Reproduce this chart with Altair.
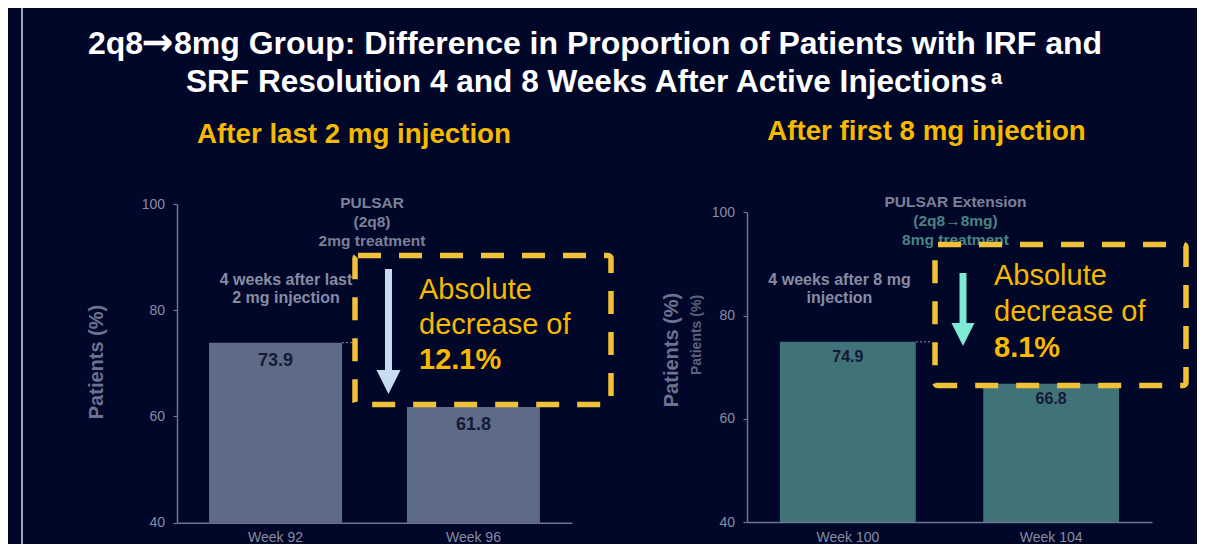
import altair as alt
import pandas as pd

# ---------------- data ----------------
left_weeks = ["Week 92", "Week 96"]
left_values = [73.9, 61.8]
right_weeks = ["Week 100", "Week 104"]
right_values = [74.9, 66.8]
y_ticks = [40, 60, 80, 100]
y_domain = [40, 100]

title_parts = ["2q8", "\u2192", "8mg Group: Difference in Proportion of Patients with IRF and"]
title_line2 = "SRF Resolution 4 and 8 Weeks After Active Injections"
title_sup = "a"
left_subtitle = "After last 2 mg injection"
right_subtitle = "After first 8 mg injection"
left_study = ["PULSAR", "(2q8)", "2mg treatment"]
right_study = ["PULSAR Extension", "(2q8\u21928mg)", "8mg treatment"]
left_note = ["4 weeks after last", "2 mg injection"]
right_note = ["4 weeks after 8 mg", "injection"]
left_callout = ["Absolute", "decrease of", "12.1%"]
right_callout = ["Absolute", "decrease of", "8.1%"]
y_title = "Patients (%)"

# ---------------- style ----------------
FONT = "Liberation Sans"
NAVY = "#010728"
WHITE = "#ffffff"
GOLD = "#f5ba00"
DASH_GOLD = "#f0c23a"
AXIS_GRAY = "#6f748e"
LABEL_GRAY = "#878ca4"
NOTE_GRAY = "#7b8098"
TITLE_GRAY = "#6c7290"
TEAL_NOTE = "#4b8383"
BAR_L = "#5e6b87"
BAR_R = "#3f7378"
ARROW_L = "#c8dcf0"
ARROW_R = "#7debd3"
DARK = "#141a38"

W, H = 1189, 536
M = 8  # page margin


def px(x):
    return x - M


def py(y):
    return y - M


def txt(text, x, y, size, color, weight="bold", align="center", angle=0, baseline="alphabetic", font=FONT):
    return alt.Chart().mark_text(
        text=text, font=font, fontSize=size, fontWeight=weight, color=color,
        align=align, baseline=baseline, angle=angle,
    ).encode(x=alt.value(px(x)), y=alt.value(py(y)))


def panel(weeks, values, x_rng, y_rng, pin, pout, bar_color, lab_size, lab_dy,
          x_axis_y, y_axis_x, ref_x):
    df = pd.DataFrame({"week": weeks, "value": values})
    base = alt.Chart(df)
    x = alt.X(
        "week:N", sort=weeks,
        scale=alt.Scale(range=[px(x_rng[0]), px(x_rng[1])], paddingInner=pin, paddingOuter=pout),
        axis=alt.Axis(orient="bottom", offset=py(x_axis_y) - H, title=None, ticks=False, tickSize=0,
                      labelAngle=0, labelPadding=8, labelFontSize=14, labelColor=LABEL_GRAY,
                      labelFont=FONT, domainColor=AXIS_GRAY, domainWidth=1.5, grid=False, zindex=1),
    )
    y = alt.Y(
        "value:Q",
        scale=alt.Scale(domain=y_domain, range=[py(y_rng[0]), py(y_rng[1])], zero=False, nice=False),
        axis=alt.Axis(orient="left", offset=-px(y_axis_x), title=None, values=y_ticks, tickSize=4,
                      tickColor=AXIS_GRAY, tickWidth=1.2, labelPadding=8.5, labelFontSize=14,
                      labelColor=LABEL_GRAY, labelFont=FONT, domainColor=AXIS_GRAY, domainWidth=1.5,
                      grid=False, zindex=1),
    )
    bars = base.mark_bar(color=bar_color).encode(x=x, y=y, y2=alt.datum(y_domain[0]))
    labels = base.mark_text(
        font=FONT, fontSize=lab_size, fontWeight="bold", color=DARK, baseline="alphabetic", dy=lab_dy
    ).encode(x="week:N", y="value:Q", text=alt.Text("value:Q", format=".1f"))
    ref = base.transform_filter(alt.datum.week == weeks[0]).mark_rule(
        color=LABEL_GRAY, strokeDash=[2, 2], strokeWidth=1
    ).encode(y="value:Q", x=alt.value(px(ref_x[0])), x2=alt.value(px(ref_x[1])))
    return alt.layer(bars, labels, ref)


left_panel = panel(left_weeks, left_values, (177, 572), (522.7, 204), 0.328, 0.162, BAR_L, 18, 23,
                   522.7, 177, (342, 353))
right_panel = panel(right_weeks, right_values, (747, 1152), (522, 212.3), 0.332, 0.162, BAR_R, 16, 20.5,
                    522, 747, (916, 932))


def box(x1, x2, y1, y2):
    return alt.Chart().mark_rect(
        filled=False, fillOpacity=0, stroke=DASH_GOLD, strokeWidth=5.5, strokeDash=[23, 18], cornerRadius=3
    ).encode(x=alt.value(px(x1)), x2=alt.value(px(x2)), y=alt.value(py(y1)), y2=alt.value(py(y2)))


def arrow(x, y1, y2, head_y, head_w, color):
    shaft = alt.Chart().mark_rule(color=color, strokeWidth=7).encode(
        x=alt.value(px(x)), y=alt.value(py(y1)), y2=alt.value(py(y2)))
    head = alt.Chart().mark_point(
        shape="M-1,-1L1,-1L0,1Z", size=head_w * head_w, filled=True, color=color, opacity=1, strokeWidth=0
    ).encode(x=alt.value(px(x)), y=alt.value(py(head_y)))
    return [shaft, head]


frame = alt.Chart().mark_rule(color="#d9dbe6", strokeWidth=1.5).encode(
    x=alt.value(px(22)), y=alt.value(0), y2=alt.value(H))

annotations = [
    frame,
    txt(title_parts[0], 88, 54, 32, WHITE, align="left"),
    txt(title_parts[1], 157.5, 55, 38, WHITE, font="DejaVu Sans"),
    txt(title_parts[2], 174, 54, 32, WHITE, align="left"),
    txt(title_line2, 586.5, 92, 31.6, WHITE),
    txt(title_sup, 991, 84, 20, WHITE, align="left"),
    txt(left_subtitle, 354, 143, 27.7, GOLD),
    txt(right_subtitle, 926.5, 139.5, 27.7, GOLD),
    # axis titles
    txt(y_title, 97, 362, 20, TITLE_GRAY, angle=270, baseline="middle"),
    txt(y_title, 672, 350, 20, TITLE_GRAY, angle=270, baseline="middle"),
    txt(y_title, 697, 335, 14, "#5d637e", angle=270, baseline="middle"),
    # study labels
    txt(left_study[0], 372, 208, 15.5, NOTE_GRAY),
    txt(left_study[1], 372, 227, 15.5, NOTE_GRAY),
    txt(left_study[2], 372, 246, 15.5, NOTE_GRAY),
    txt(right_study[0], 955.5, 207, 15.5, NOTE_GRAY),
    txt(right_study[1], 955.5, 226, 15.5, TEAL_NOTE),
    txt(right_study[2], 955.5, 245, 15.5, TEAL_NOTE),
    txt(left_note[0], 286, 285, 16, LABEL_GRAY),
    txt(left_note[1], 286, 303, 16, LABEL_GRAY),
    txt(right_note[0], 839.5, 285, 16, LABEL_GRAY),
    txt(right_note[1], 839.5, 303, 16, LABEL_GRAY),
    # callouts
    box(355, 611, 255.5, 404.5),
    box(935, 1186, 244.5, 385.5),
    *arrow(388.5, 269, 374, 382, 24, ARROW_L),
    *arrow(963, 273, 326, 334.5, 23, ARROW_R),
    txt(left_callout[0], 419, 299, 29, GOLD, weight="normal", align="left"),
    txt(left_callout[1], 419, 334, 29, GOLD, weight="normal", align="left"),
    txt(left_callout[2], 419, 369, 29, GOLD, align="left"),
    txt(right_callout[0], 994, 285, 29, GOLD, weight="normal", align="left"),
    txt(right_callout[1], 994, 321, 29, GOLD, weight="normal", align="left"),
    txt(right_callout[2], 994, 357, 29, GOLD, align="left"),
]

chart = (
    alt.layer(left_panel, right_panel, *annotations)
    .resolve_scale(x="independent", y="independent")
    .properties(width=W, height=H, background=NAVY, padding=0,
                autosize=alt.AutoSizeParams(type="none"))
    .configure_view(stroke="transparent")
)

chart.save("out.html", embed_options={"renderer": "svg", "actions": False})
